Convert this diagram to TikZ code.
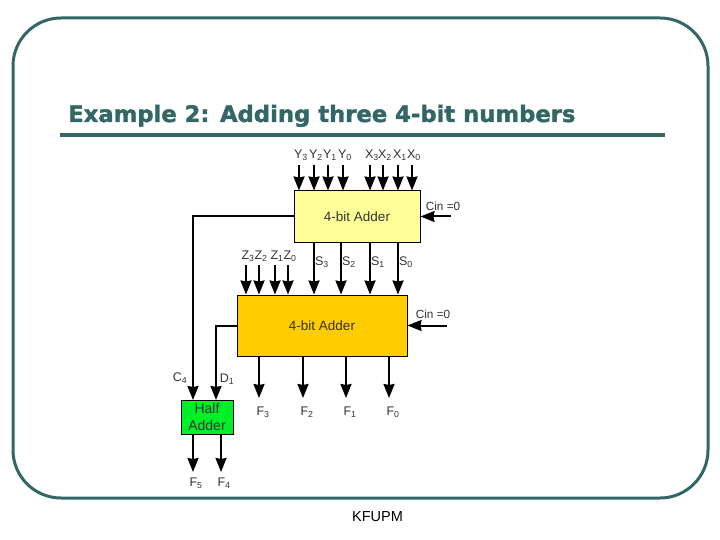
\documentclass[tikz,border=0pt]{standalone}
\usepackage{fontspec}
\setmainfont{Liberation Sans}
\newfontfamily\titlefont[BoldFeatures={FakeBold=1.6}]{DejaVu Sans}
\usetikzlibrary{arrows.meta}
\definecolor{framegreen}{HTML}{336666}
\definecolor{labelgray}{HTML}{333333}
\tikzset{
  adderbox/.style={draw=black,line width=1pt,inner sep=0pt,font=\fontsize{13.5}{14}\selectfont,text=labelgray},
  busline/.style={draw=black,line width=2pt},
  busarrow/.style={busline,-{Stealth[length=14pt,width=11pt,inset=1pt]}},
  pinlabel/.style={font=\fontsize{12.5}{14}\selectfont,text=labelgray,inner sep=0pt},
  cinlabel/.style={font=\fontsize{11.8}{14}\selectfont,text=labelgray,inner sep=0pt}
}

\begin{document}
\begin{tikzpicture}[x=1pt,y=-1pt]
\useasboundingbox (0,0) rectangle (720,540);

% frame and title
\draw[framegreen,line width=3pt,rounded corners=48pt] (13,18) rectangle (708,498);
\node[anchor=base west,inner sep=0pt,text=framegreen,font=\titlefont\bfseries\fontsize{22.7}{24}\selectfont] (title) at (68,122) {Example 2: Adding three 4-bit numbers};
\coordinate (ruleleft) at (60,135);
\coordinate (ruleright) at (665,135);
\draw[framegreen,line width=3.5pt] (ruleleft) -- (ruleright);
\node[font=\fontsize{14.5}{15}\selectfont,inner sep=0pt] (kfupm) at (377.5,517) {KFUPM};

% the three boxes
\node[adderbox,fill={rgb,255:red,255;green,255;blue,153},minimum width=126pt,minimum height=51pt] (adderone) at (357,216.5) {4-bit Adder};
\node[adderbox,fill={rgb,255:red,255;green,204;blue,0},minimum width=170pt,minimum height=61pt] (addertwo) at (322,325.5) {4-bit Adder};
\node[adderbox,fill={rgb,255:red,0;green,240;blue,40},minimum width=52pt,minimum height=34pt,align=center,font=\fontsize{14}{16.5}\selectfont] (halfadder) at (207,417) {Half\\Adder};

% inputs of the first adder
\foreach \x/\n/\s in {299/y3/3,314/y2/2,328/y1/1,343/y0/0}
{
  \coordinate (\n) at (\x,165);
  \draw[busarrow] (\n) -- (\n |- adderone.north);
  \node[pinlabel] (lab\n) at (\x+2,155) {Y\textsubscript{\s}};
}
\foreach \x/\n/\s in {370/x3/3,383/x2/2,398/x1/1,412/x0/0}
{
  \coordinate (\n) at (\x,165);
  \draw[busarrow] (\n) -- (\n |- adderone.north);
  \node[pinlabel] (lab\n) at (\x+2,155) {X\textsubscript{\s}};
}

% sums and third number
\foreach \x/\n/\s in {314/s3/3,341/s2/2,370/s1/1,398/s0/0}
{
  \coordinate (\n) at (\x,242);
  \draw[busarrow] (\n) -- (\n |- addertwo.north);
  \node[pinlabel] (lab\n) at (\x+8,262) {S\textsubscript{\s}};
}
\foreach \x/\n/\s in {246/z3/3,259/z2/2,275/z1/1,288/z0/0}
{
  \coordinate (\n) at (\x,265);
  \draw[busarrow] (\n) -- (\n |- addertwo.north);
  \node[pinlabel] (lab\n) at (\x+2,256) {Z\textsubscript{\s}};
}

% carry in
\coordinate (cinone) at (451,216.5);
\coordinate (cintwo) at (447,325.5);
\draw[busarrow] (cinone) -- (adderone.east);
\draw[busarrow] (cintwo) -- (addertwo.east);
\node[cinlabel] (labcinone) at (443,206) {Cin =0};
\node[cinlabel] (labcintwo) at (433,314) {Cin =0};

% carries to the half adder
\coordinate (cfour) at (193,400);
\coordinate (done) at (216,400);
\draw[busarrow] (adderone.west) -| (cfour);
\draw[busarrow] (addertwo.west) -| (done);
\node[pinlabel] (labcfour) at (180,378) {C\textsubscript{4}};
\node[pinlabel] (labdone) at (227,379) {D\textsubscript{1}};

% outputs
\foreach \x/\n/\s in {259/f3/3,303/f2/2,346/f1/1,389/f0/0}
{
  \coordinate (\n) at (\x,398);
  \draw[busarrow] (\n |- addertwo.south) -- (\n);
  \node[pinlabel] (lab\n) at (\x+4,412) {F\textsubscript{\s}};
}
\foreach \x/\n/\s in {193/ffive/5,221/ffour/4}
{
  \coordinate (\n) at (\x,472);
  \draw[busarrow] (\n |- halfadder.south) -- (\n);
  \node[pinlabel] (lab\n) at (\x+3,483) {F\textsubscript{\s}};
}
\end{tikzpicture}
\end{document}
